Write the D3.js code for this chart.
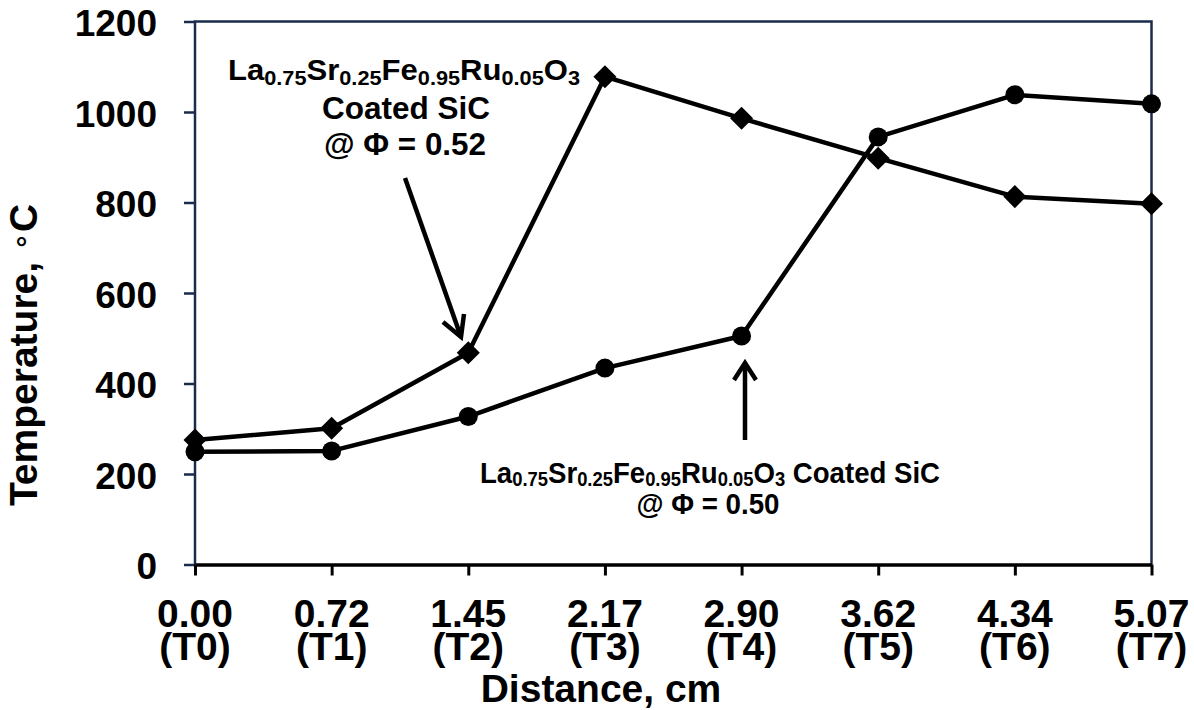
<!DOCTYPE html>
<html>
<head>
<meta charset="utf-8">
<script src="https://cdn.jsdelivr.net/npm/d3@7"></script>
<style>
  html, body { margin: 0; padding: 0; background: #fff; }
  svg { display: block; font-family: "Liberation Sans", Arial, Helvetica, sans-serif; font-weight: bold; }
</style>
</head>
<body>
<svg id="chart" width="1194" height="710"></svg>
<script>
// Thermocouple positions along the bed
const distances = ["0.00", "0.72", "1.45", "2.17", "2.90", "3.62", "4.34", "5.07"];
const probes = ["(T0)", "(T1)", "(T2)", "(T3)", "(T4)", "(T5)", "(T6)", "(T7)"];

// Measured temperatures, deg C
const tempPhi052 = [275, 301, 468, 1078, 986, 898, 813, 797];
const tempPhi050 = [249, 251, 327, 434, 505, 945, 1038, 1018];

const yTicks = [0, 200, 400, 600, 800, 1000, 1200];

const svg = d3.select("#chart");
const margin = { left: 195, top: 21.5, right: 42.5, bottom: 145.5 };
const W = 1194, H = 710;
const navy = "#1b2b4b";

const x = d3.scalePoint().domain(d3.range(distances.length)).range([margin.left, W - margin.right]);
const y = d3.scaleLinear().domain([0, 1200]).range([H - margin.bottom, margin.top]);

// y axis
const yAxis = svg.append("g")
  .attr("transform", `translate(${margin.left},0)`)
  .call(d3.axisLeft(y).tickValues(yTicks).tickFormat(d3.format("d"))
    .tickSize(11).tickPadding(27).tickSizeOuter(0));
yAxis.select(".domain").remove();
yAxis.selectAll(".tick line").attr("stroke", navy).attr("stroke-width", 2.5);
yAxis.selectAll(".tick text")
  .attr("fill", "#000").attr("font-size", 37).attr("font-family", null)
  .attr("dy", "0.39em");

// frame: top, left, right in navy
svg.append("path")
  .attr("d", `M${margin.left},${y(0)} V${margin.top} H${W - margin.right} V${y(0)}`)
  .attr("fill", "none").attr("stroke", navy).attr("stroke-width", 2.5);

// x axis
const xAxis = svg.append("g")
  .attr("transform", `translate(0,${y(0)})`)
  .call(d3.axisBottom(x).tickSize(11).tickSizeOuter(0).tickFormat(""));
xAxis.select(".domain").attr("stroke", "#000").attr("stroke-width", 3.5);
xAxis.selectAll(".tick line").attr("stroke", "#000").attr("stroke-width", 3);

// two-line category labels: distance over probe name
const xl = svg.append("g").attr("font-size", 39).attr("text-anchor", "middle");
xl.selectAll("text").data(distances).join("text")
  .attr("y", 627)
  .each(function (d, i) {
    const t = d3.select(this);
    t.append("tspan").attr("x", x(i)).text(d);
    t.append("tspan").attr("x", x(i)).attr("dy", 33).text(probes[i]);
  });

// axis titles
svg.append("text").attr("x", 601).attr("y", 702).attr("text-anchor", "middle")
  .attr("font-size", 39).text("Distance, cm");

const yt = svg.append("text")
  .attr("transform", "translate(37,355) rotate(-90)")
  .attr("text-anchor", "middle").attr("font-size", 39);
yt.append("tspan").text("Temperature, ");
yt.append("tspan").attr("font-weight", "normal").attr("font-size", 30).attr("dy", -6).text("\u2218");
yt.append("tspan").attr("dy", 6).text("C");

// series
const line = d3.line().x((d, i) => x(i)).y(d => y(d));
svg.append("path").datum(tempPhi052).attr("d", line)
  .attr("fill", "none").attr("stroke", "#000").attr("stroke-width", 4.5).attr("stroke-linejoin", "round");
svg.append("path").datum(tempPhi050).attr("d", line)
  .attr("fill", "none").attr("stroke", "#000").attr("stroke-width", 4.5).attr("stroke-linejoin", "round");

svg.append("g").selectAll("path").data(tempPhi052).join("path")
  .attr("d", d3.symbol(d3.symbolSquare, 265))
  .attr("transform", (d, i) => `translate(${x(i)},${y(d)}) rotate(45)`)
  .attr("fill", "#000");
svg.append("g").selectAll("circle").data(tempPhi050).join("circle")
  .attr("cx", (d, i) => x(i)).attr("cy", d => y(d)).attr("r", 9.5)
  .attr("fill", "#000");

// annotations with chemical subscripts
const formula = [["La"], ["0.75", 1], ["Sr"], ["0.25", 1], ["Fe"], ["0.95", 1], ["Ru"], ["0.05", 1], ["O"], ["3", 1]];

function formulaText(g, xc, yb, mainSize, subSize, shift, len, tail) {
  const t = g.append("text").attr("x", xc).attr("y", yb).attr("text-anchor", "middle")
    .attr("font-size", mainSize);
  let sub = false;
  formula.forEach(([s, isSub]) => {
    const ts = t.append("tspan").text(s);
    if (isSub && !sub) { ts.attr("font-size", subSize).attr("dy", shift); sub = true; }
    else if (!isSub && sub) { ts.attr("dy", -shift); sub = false; }
    else if (isSub) { ts.attr("font-size", subSize); }
  });
  if (tail) t.append("tspan").attr("dy", -shift).text(tail);
  if (len) t.attr("textLength", len).attr("lengthAdjust", "spacingAndGlyphs");
  return t;
}

const ann = svg.append("g").attr("fill", "#000");
formulaText(ann, 404, 80, 30, 21, 5, 352);
ann.append("text").attr("x", 406).attr("y", 119).attr("text-anchor", "middle")
  .attr("font-size", 32).attr("textLength", 168).attr("lengthAdjust", "spacingAndGlyphs").text("Coated SiC");
ann.append("text").attr("x", 405).attr("y", 155).attr("text-anchor", "middle")
  .attr("font-size", 32).attr("textLength", 162).attr("lengthAdjust", "spacingAndGlyphs").text("@ \u03A6 = 0.52");

formulaText(ann, 710, 483, 30, 20, 3, 460, " Coated SiC");
ann.append("text").attr("x", 708).attr("y", 514).attr("text-anchor", "middle")
  .attr("font-size", 30).attr("textLength", 143).attr("lengthAdjust", "spacingAndGlyphs").text("@ \u03A6 = 0.50");

// arrows
const arrows = ann.append("g").attr("fill", "none").attr("stroke", "#000").attr("stroke-width", 4.5);
arrows.append("path").attr("d", "M405,178 L461,337");
arrows.append("path").attr("d", "M443,322 L461,337 L464,314").attr("stroke-linejoin", "miter");
arrows.append("path").attr("d", "M745,440 L745,363");
arrows.append("path").attr("d", "M734,380 L745,363 L756,380").attr("stroke-linejoin", "miter");
</script>
</body>
</html>
